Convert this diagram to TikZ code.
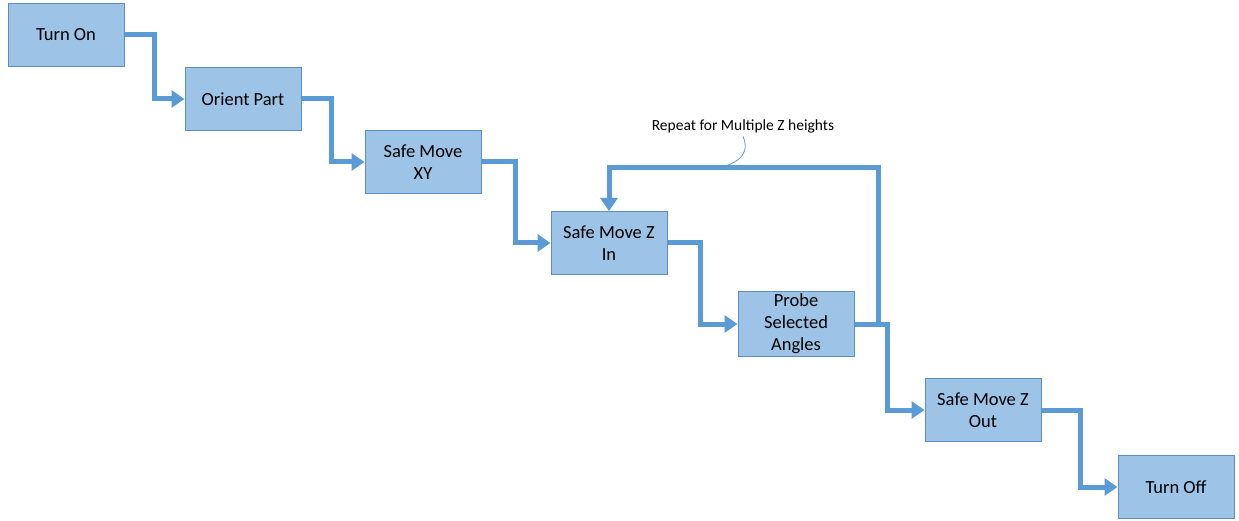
\documentclass[tikz,border=0pt]{standalone}
\usepackage{fontspec}
\setmainfont{Carlito}
\usetikzlibrary{arrows.meta}
\definecolor{boxfill}{HTML}{9DC3E6}
\definecolor{boxline}{HTML}{5A8EC4}
\definecolor{flowblue}{HTML}{5B9BD5}

\tikzset{
  stepbox/.style={draw=boxline, fill=boxfill, line width=1pt, minimum width=116pt,
    minimum height=63pt, align=center, inner sep=2pt,
    font=\fontsize{18.5}{22}\selectfont},
  flow/.style={draw=flowblue, line width=5pt,
    -{Triangle[length=13pt,width=17pt]}},
}

\begin{document}
\begin{tikzpicture}[x=1pt,y=-1pt]
	  \useasboundingbox (0,0) rectangle (1239,521);

	  % Steps
	  \node [stepbox] (on) at (66,35) {Turn On};
	  \node [stepbox] (orient) at (243,99) {Orient Part};
	  \node [stepbox] (xy) at (423,162) {Safe Move\\XY};
	  \node [stepbox] (zin) at (609,243) {Safe Move Z\\In};
	  \node [stepbox] (probe) at (796,324) {Probe\\Selected\\Angles};
	  \node [stepbox] (zout) at (983,410) {Safe Move Z\\Out};
	  \node [stepbox] (off) at (1176,487) {Turn Off};

	  % Connectors
	  \draw [flow] (on.east) -- ++(30,0) |- (orient.west);
	  \draw [flow] (orient.east) -- ++(30,0) |- (xy.west);
	  \draw [flow] (xy.east) -- ++(34,0) |- (zin.west);
	  \draw [flow] (zin.east) -- ++(33,0) |- (probe.west);
	  \draw [flow] (probe.east) -- ++(33,0) |- (zout.west);
	  \draw [flow] (zout.east) -- ++(39,0) |- (off.west);

	  % Loop back for the next Z height
	  \coordinate (loop) at (878,168);
	  \draw [flow] (probe.east) -| (loop) -| (zin.north);

	  % Note
	  \node [font=\fontsize{15.5}{18}\selectfont] (note) at (743,126) {Repeat for Multiple Z heights};
	  \coordinate (tip) at (718,168);
	  \draw [flowblue, line width=0.8pt] (note.south) .. controls (749,150) and (744,162) .. (tip);
	 \end{tikzpicture}
\end{document}
